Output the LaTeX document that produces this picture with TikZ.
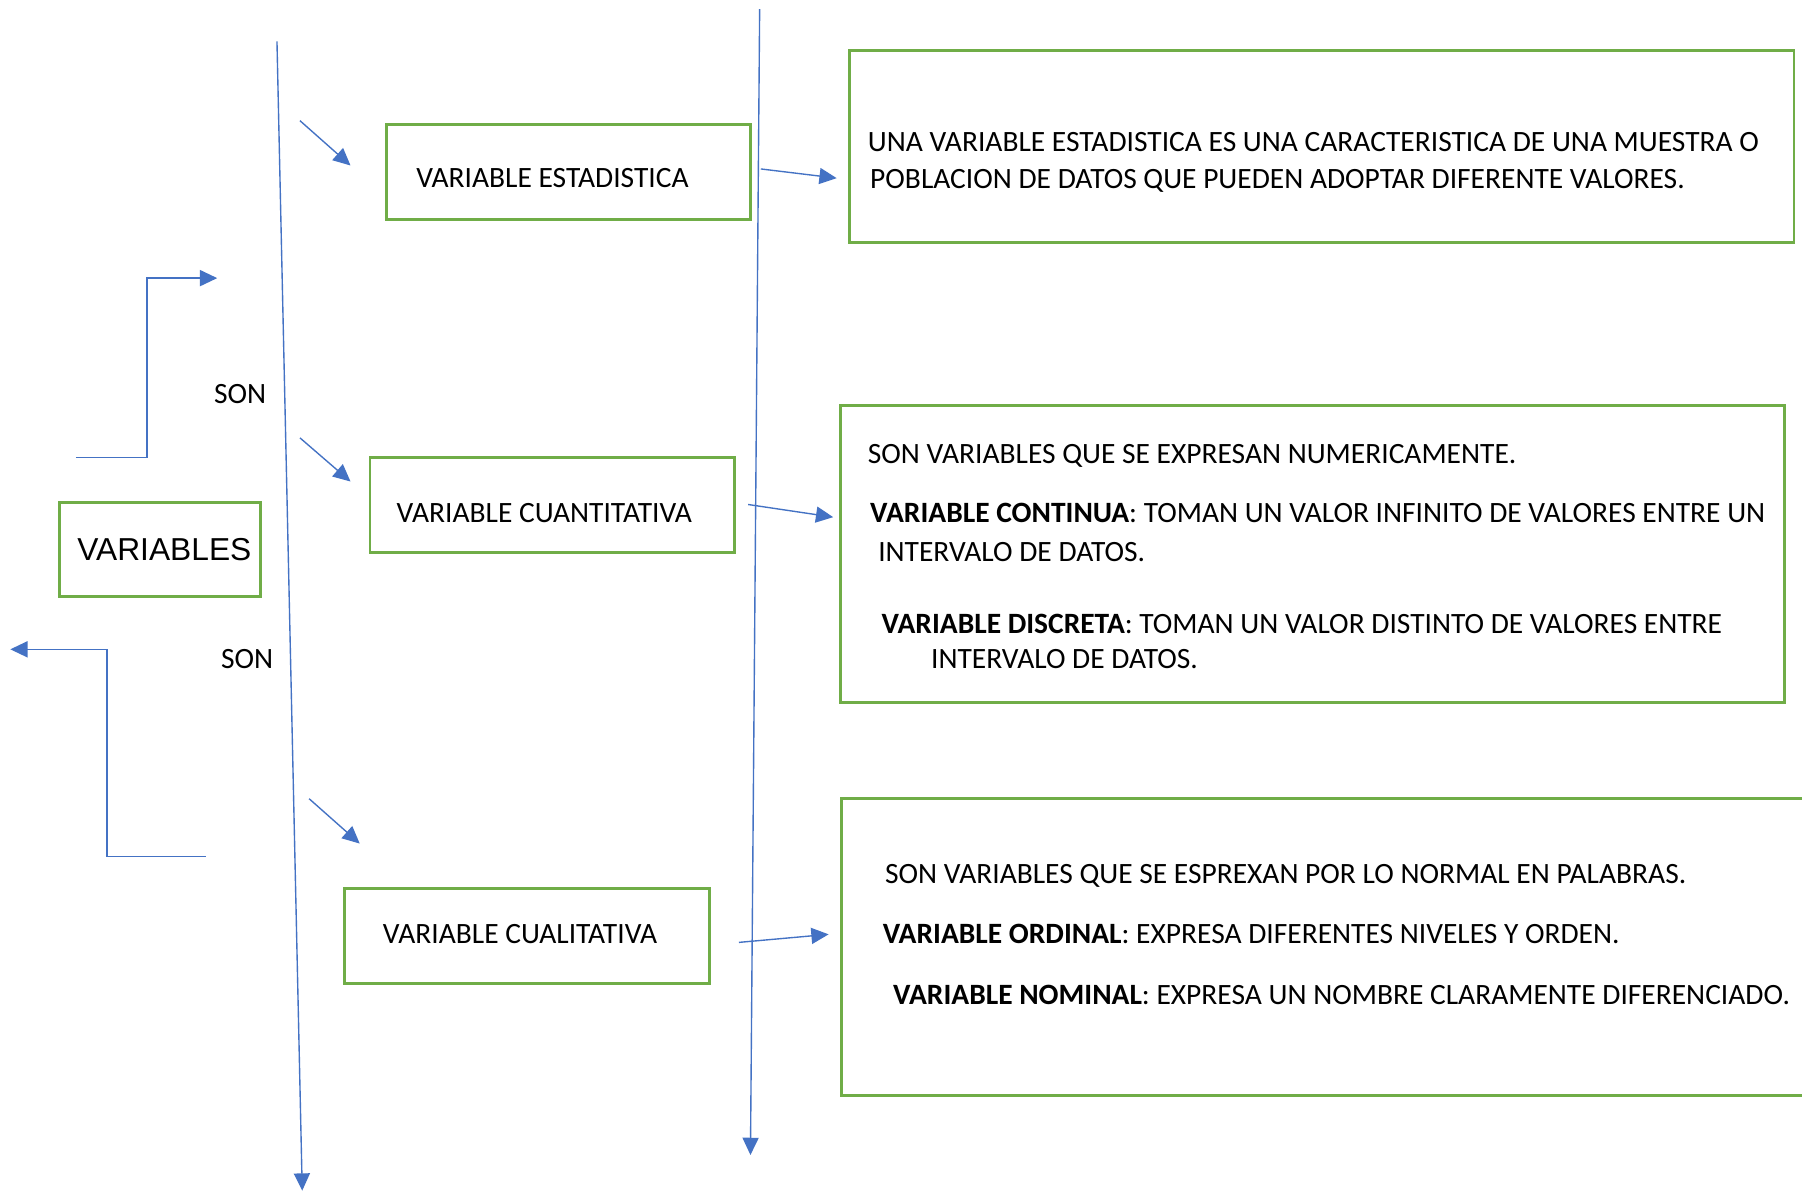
\documentclass[tikz,border=0pt]{standalone}
\usepackage{fontspec}
\setmainfont{Carlito}
\newfontfamily\arialfont{Liberation Sans}
\usetikzlibrary{arrows.meta}
\definecolor{lineblue}{HTML}{4472C4}
\definecolor{boxgreen}{HTML}{70AD47}
\begin{document}
\begin{tikzpicture}[x=1pt,y=-1pt,
  conn/.style={draw=lineblue, line width=1.2pt, -{Triangle[length=15pt,width=14pt]}},
  gbox/.style={draw=boxgreen, line width=2.5pt, rectangle, inner sep=0pt},
  txt/.style={font=\fontsize{25.65}{30}\selectfont, inner sep=0pt, anchor=base west},
  sontxt/.style={font=\fontsize{25.65}{30}\selectfont, inner sep=0pt, anchor=base},
]
\useasboundingbox (0,0) rectangle (1568,1038);
\clip (0,0) rectangle (1568,1038);
\fill[white] (0,0) rectangle (1568,1038);

% boxes
\node[gbox, minimum width=175pt, minimum height=82pt] (vars) at (139.5,478) {};
\node[inner sep=0pt, font=\arialfont\fontsize{27.6}{30}\selectfont] (varstxt) at (143,478) {VARIABLES};

\node[gbox, minimum width=317pt, minimum height=83pt] (vest) at (494.5,149.5) {};
\node[txt] (vesttxt) at (362,163) {VARIABLE ESTADISTICA};
\node[gbox, minimum width=317pt, minimum height=83pt] (vcuan) at (480.5,439.5) {};
\node[txt] (vcuantxt) at (345,455) {VARIABLE CUANTITATIVA};
\node[gbox, minimum width=317pt, minimum height=83pt] (vcual) at (458.5,814.5) {};
\node[txt] (vcualtxt) at (333,821) {VARIABLE CUALITATIVA};

\node[gbox, minimum width=822pt, minimum height=167pt] (def1) at (1150,127.5) {};
\node[txt] (d1a) at (755,132) {UNA VARIABLE ESTADISTICA ES UNA CARACTERISTICA DE UNA MUESTRA O};
\node[txt] (d1b) at (757,164) {POBLACION DE DATOS QUE PUEDEN ADOPTAR DIFERENTE VALORES.};

\node[gbox, minimum width=822pt, minimum height=258pt] (def2) at (1142,482) {};
\node[txt] (d2a) at (755,403) {SON VARIABLES QUE SE EXPRESAN NUMERICAMENTE.};
\node[txt] (d2b) at (757,455) {\textbf{VARIABLE CONTINUA}: TOMAN UN VALOR INFINITO DE VALORES ENTRE UN};
\node[txt] (d2c) at (764,489) {INTERVALO DE DATOS.};
\node[txt] (d2d) at (767,551) {\textbf{VARIABLE DISCRETA}: TOMAN UN VALOR DISTINTO DE VALORES ENTRE};
\node[txt] (d2e) at (810,582) {INTERVALO DE DATOS.};

\node[gbox, minimum width=868pt, minimum height=258pt] (def3) at (1166,824) {};
\node[txt] (d3a) at (770,769) {SON VARIABLES QUE SE ESPREXAN POR LO NORMAL EN PALABRAS.};
\node[txt] (d3b) at (768,821) {\textbf{VARIABLE ORDINAL}: EXPRESA DIFERENTES NIVELES Y ORDEN.};
\node[txt] (d3c) at (777,874) {\textbf{VARIABLE NOMINAL}: EXPRESA UN NOMBRE CLARAMENTE DIFERENCIADO.};

% SON labels
\node[sontxt] (son1) at (209,351) {SON};
\node[sontxt] (son2) at (215,582) {SON};

% coordinates for free connector ends
\coordinate (l1s) at (241,36);
\coordinate (l1e) at (263,1036);
\coordinate (l2s) at (661,8);
\coordinate (l2e) at (653,1005);
\coordinate (a1s) at (261,105);
\coordinate (a1e) at (305,144);
\coordinate (a2s) at (261,381);
\coordinate (a2e) at (305,419);
\coordinate (a3s) at (269,695);
\coordinate (a3e) at (313,734);
\coordinate (b1s) at (662,147);
\coordinate (b1e) at (728,155);
\coordinate (b2s) at (651,439);
\coordinate (b2e) at (725,450);
\coordinate (b3s) at (643,820);
\coordinate (b3e) at (721,813);
\coordinate (e1s) at (66,398);
\coordinate (e1e) at (189,242);
\coordinate (e2s) at (179,745);
\coordinate (e2e) at (9,565);

% connectors
\draw[conn] (l1s) -- (l1e);
\draw[conn] (l2s) -- (l2e);
\draw[conn] (a1s) -- (a1e);
\draw[conn] (a2s) -- (a2e);
\draw[conn] (a3s) -- (a3e);
\draw[conn] (b1s) -- (b1e);
\draw[conn] (b2s) -- (b2e);
\draw[conn] (b3s) -- (b3e);
\draw[conn] (e1s) -- (128,398) -- (128,242) -- (e1e);
\draw[conn] (e2s) -- (93,745) -- (93,565) -- (e2e);
\end{tikzpicture}
\end{document}
